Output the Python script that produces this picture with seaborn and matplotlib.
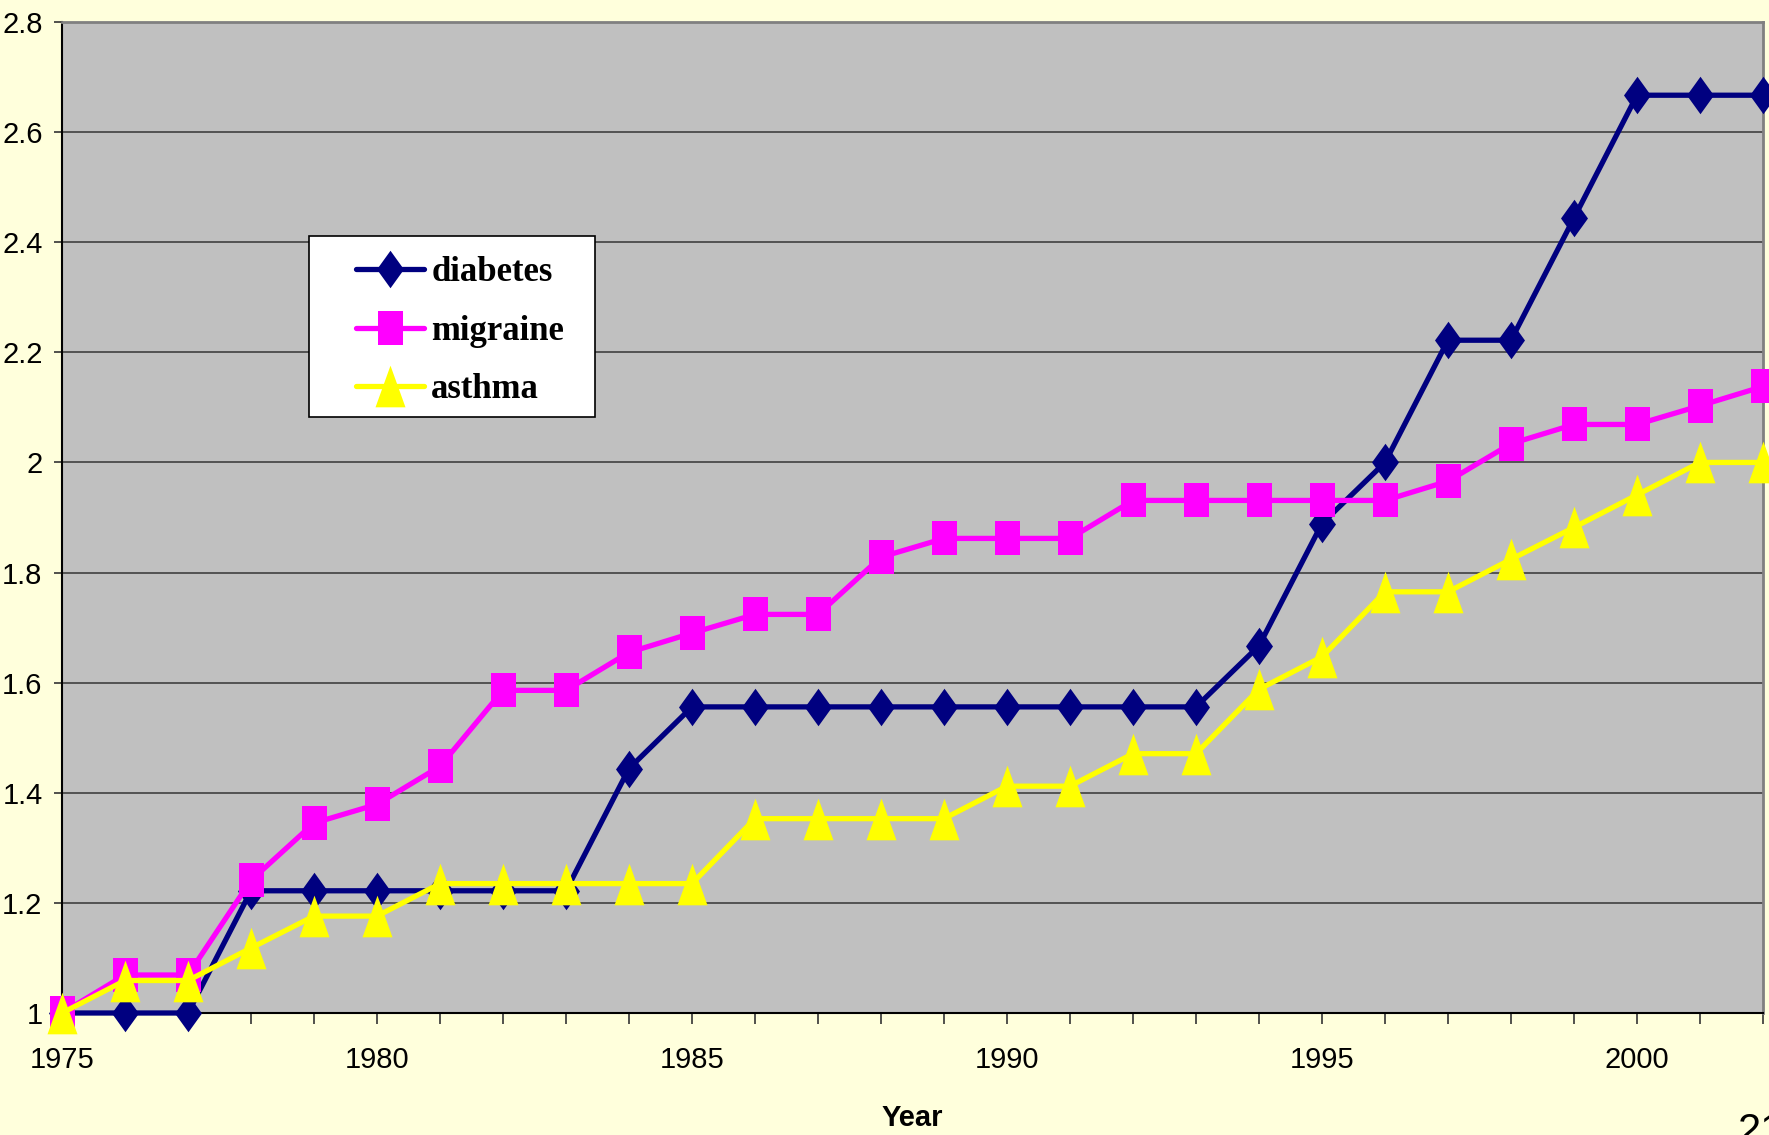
import matplotlib
matplotlib.use("Agg")
import matplotlib.pyplot as plt
from matplotlib import font_manager
from matplotlib.patches import Rectangle
import seaborn as sns

years = list(range(1975, 2003))
diabetes = [1.0, 1.0, 1.0, 1.222, 1.222, 1.222, 1.222, 1.222, 1.222, 1.444,
            1.556, 1.556, 1.556, 1.556, 1.556, 1.556, 1.556, 1.556, 1.556, 1.667,
            1.889, 2.0, 2.222, 2.222, 2.444, 2.667, 2.667, 2.667]
migraine = [1.0, 1.069, 1.069, 1.241, 1.345, 1.379, 1.448, 1.586, 1.586, 1.655,
            1.690, 1.724, 1.724, 1.828, 1.862, 1.862, 1.862, 1.931, 1.931, 1.931,
            1.931, 1.931, 1.966, 2.034, 2.069, 2.069, 2.103, 2.138]
asthma = [1.0, 1.059, 1.059, 1.118, 1.176, 1.176, 1.235, 1.235, 1.235, 1.235,
          1.235, 1.353, 1.353, 1.353, 1.353, 1.412, 1.412, 1.471, 1.471, 1.588,
          1.647, 1.765, 1.765, 1.824, 1.882, 1.941, 2.0, 2.0]
series_names = ["diabetes", "migraine", "asthma"]
y_ticks = [1.0, 1.2, 1.4, 1.6, 1.8, 2.0, 2.2, 2.4, 2.6, 2.8]
x_label_years = [1975, 1980, 1985, 1990, 1995, 2000]

avail = {f.name for f in font_manager.fontManager.ttflist}
narrow = "Liberation Sans Narrow" if "Liberation Sans Narrow" in avail else "Liberation Sans"

sns.set_style("white")
plt.rcParams["font.family"] = [narrow, "DejaVu Sans"]
plt.rcParams["text.color"] = "black"
plt.rcParams["xtick.color"] = "black"
plt.rcParams["ytick.color"] = "black"
plt.rcParams["axes.labelcolor"] = "black"

W, H = 1769, 1135
fig = plt.figure(figsize=(W / 100, H / 100), dpi=100, facecolor="#FFFFDC")
L, T, R, B = 62, 22, 1763, 1013
ax = fig.add_axes([L / W, 1 - B / H, (R - L) / W, (B - T) / H])
ax.set_facecolor("#C0C0C0")

diamond = [(0, 1), (0.72, 0), (0, -1), (-0.72, 0), (0, 1)]
square = [(-0.72, -1), (0.72, -1), (0.72, 1), (-0.72, 1), (-0.72, -1)]
triangle = [(0, 1), (0.72, -1), (-0.72, -1), (0, 1)]

specs = [
    (diabetes, "#000080", diamond, 27),
    (migraine, "#FF00FF", square, 25),
    (asthma, "#FFFF00", triangle, 30),
]
for name, (vals, col, mk, ms) in zip(series_names, specs):
    sns.lineplot(x=years, y=vals, ax=ax, color=col, marker=mk, markersize=ms,
                 markeredgewidth=0, markerfacecolor=col, linewidth=3.8,
                 label=name, clip_on=False, zorder=3)

ax.set_xlim(1975, 2002)
ax.set_ylim(1, 2.8)
ax.set_yticks(y_ticks)
ax.set_yticklabels([f"{v:g}" for v in y_ticks])
ax.set_xticks(years)
ax.set_xticklabels([str(y) if y in x_label_years else "" for y in years])
ax.tick_params(axis="x", direction="out", length=8, width=1.2, color="#333333",
               labelcolor="black", labelsize=21, pad=16, bottom=True)
ax.tick_params(axis="y", direction="out", length=6, width=1.2, color="#333333",
               labelcolor="black", labelsize=21, pad=8, left=True)
ax.grid(axis="y", color="#4a4a4a", linewidth=1.3)
ax.grid(axis="x", visible=False)
ax.set_axisbelow(True)
for s in ["left", "bottom"]:
    ax.spines[s].set_color("#000000")
    ax.spines[s].set_linewidth(1.5)
for s in ["top", "right"]:
    ax.spines[s].set_color("#808080")
    ax.spines[s].set_linewidth(2)
ax.set_xlabel("")
ax.set_ylabel("")

# legend box
ax.add_patch(Rectangle(((309 - L) / (R - L), 1 - (417 - T) / (B - T)),
                       286 / (R - L), 181 / (B - T), transform=ax.transAxes,
                       facecolor="white", edgecolor="black", linewidth=1.2,
                       zorder=5))
leg = ax.legend(loc="upper left",
                bbox_to_anchor=((356 - L) / (R - L), 1 - (256 - T) / (B - T)),
                frameon=False, borderpad=0, borderaxespad=0,
                handlelength=1.95, handletextpad=0.22, labelspacing=0.74,
                prop={"family": ["Liberation Serif"], "weight": "bold", "size": 25})
leg.set_zorder(6)
for t in leg.get_texts():
    t.set_color("black")

fig.text(912 / W, 1 - 1118 / H, "Year", ha="center", va="center",
         fontsize=21, fontweight="bold", color="black")
fig.text(1738 / W, 1 - 1112 / H, "21", ha="left", va="top", fontsize=30,
         color="black", family=["Liberation Sans", "DejaVu Sans"])

fig.savefig("out.png", dpi=100, facecolor=fig.get_facecolor())
